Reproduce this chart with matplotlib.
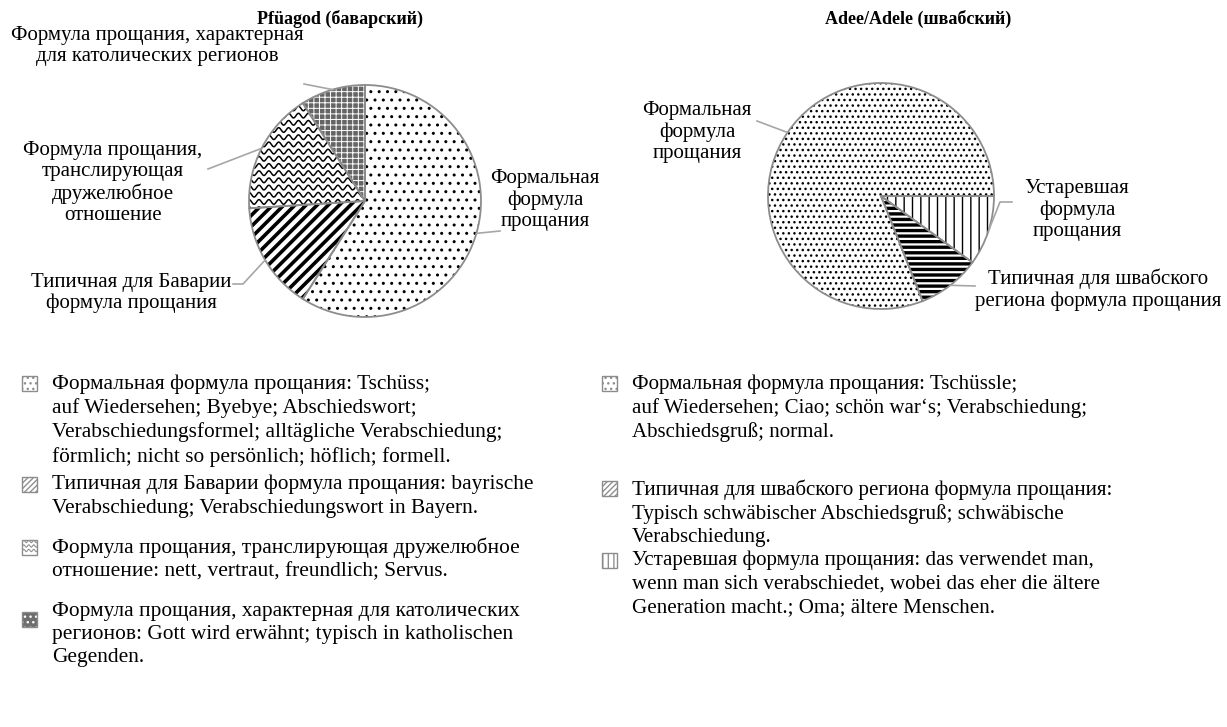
import numpy as np
import matplotlib
matplotlib.use("Agg")
import matplotlib.pyplot as plt
from matplotlib.patches import Wedge, Rectangle

plt.rcParams['font.family'] = ['Liberation Serif', 'DejaVu Serif']

# --- data ---
bav_labels = ["Формальная\nформула\nпрощания",
              "Типичная для Баварии\nформула прощания",
              "Формула прощания,\nтранслирующая\nдружелюбное\nотношение",
              "Формула прощания, характерная\nдля католических регионов"]
bav_values = [59, 15, 17, 9]

swa_labels = ["Формальная\nформула\nпрощания",
              "Типичная для швабского\nрегиона формула прощания",
              "Устаревшая\nформула\nпрощания"]
swa_values = [81, 9, 10]

bav_legend = [
    "Формальная формула прощания: Tschüss;\nauf Wiedersehen; Byebye; Abschiedswort;\n"
    "Verabschiedungsformel; alltägliche Verabschiedung;\nförmlich; nicht so persönlich; höflich; formell.",
    "Типичная для Баварии формула прощания: bayrische\nVerabschiedung; Verabschiedungswort in Bayern.",
    "Формула прощания, транслирующая дружелюбное\nотношение: nett, vertraut, freundlich; Servus.",
    "Формула прощания, характерная для католических\nрегионов: Gott wird erwähnt; typisch in katholischen\nGegenden.",
]
swa_legend = [
    "Формальная формула прощания: Tschüssle;\nauf Wiedersehen; Ciao; schön war‘s; Verabschiedung;\nAbschiedsgruß; normal.",
    "Типичная для швабского региона формула прощания:\nTypisch schwäbischer Abschiedsgruß; schwäbische\nVerabschiedung.",
    "Устаревшая формула прощания: das verwendet man,\nwenn man sich verabschiedet, wobei das eher die ältere\nGeneration macht.; Oma; ältere Menschen.",
]

W, H = 1227, 727
fig = plt.figure(figsize=(W / 100, H / 100), dpi=100)

# overlay in pixel coords (y down)
lay = fig.add_axes([0, 0, 1, 1], zorder=3)
lay.set_xlim(0, W)
lay.set_ylim(H, 0)
lay.axis('off')

EDGE = '#8c8c8c'


def pie_axes(cx, cy, r):
    s = 2.5 * r
    return fig.add_axes([(cx - s / 2) / W, (H - cy - s / 2) / H, s / W, s / H])


def waves(ax, patch, x0, x1, y0, y1, step, amp, period, color, lw):
    # wavy texture clipped to a patch
    xs = np.linspace(x0, x1, 800)
    for y in np.arange(y0, y1, step):
        ln, = ax.plot(xs, y + amp * np.sin(xs * 2 * np.pi / period), color=color, lw=lw)
        ln.set_clip_path(patch)


def draw_pie(cx, cy, r, values, styles, ccw, start):
    ax = pie_axes(cx, cy, r)
    wedges, _ = ax.pie(values, startangle=start, counterclock=ccw,
                       wedgeprops=dict(linewidth=0))
    for w, st in zip(wedges, styles):
        w.set_facecolor(st['fc'])
        w.set_edgecolor(st['hc'])
        if st['hatch'] == 'wave':
            waves(ax, w, -1, 1, -1, 1, 0.062, 0.02, 0.085, 'black', 1.1)
        else:
            w.set_hatch(st['hatch'])
        try:
            w.set_hatch_linewidth(st['hlw'])
        except AttributeError:
            pass
        ax.add_patch(Wedge(w.center, w.r, w.theta1, w.theta2, fill=False,
                           edgecolor=EDGE, lw=1.3, zorder=5))
    return wedges


bav_styles = [dict(fc='white', hc='black', hatch='..', hlw=1.0),
              dict(fc='white', hc='black', hatch='///', hlw=2.6),
              dict(fc='white', hc='black', hatch='wave', hlw=1.0),
              dict(fc='#656565', hc='white', hatch='+++', hlw=0.7)]
swa_styles = [dict(fc='white', hc='black', hatch='...', hlw=1.0),
              dict(fc='white', hc='black', hatch='---', hlw=2.4),
              dict(fc='white', hc='black', hatch='||', hlw=1.0)]

L = (365, 201, 116)
R = (881, 196, 113)
bav_w = draw_pie(*L, bav_values, bav_styles, False, 90)
swa_w = draw_pie(*R, swa_values, swa_styles, True, 0)


def edge_pt(geom, w):
    cx, cy, r = geom
    a = np.deg2rad((w.theta1 + w.theta2) / 2)
    return cx + r * np.cos(a), cy - r * np.sin(a)


lab_fs = 15
# label centre and leader points after the pie edge
bav_pos = [(545, 200, [(500, 231)]),
           (131, 293, [(243, 284), (233, 284)]),
           (113, 183, [(208, 169)]),
           (157, 46, [(304, 84)])]
swa_pos = [(697, 132, [(757, 121)]),
           (1098, 290, [(975, 286)]),
           (1077, 210, [(1000, 202), (1012, 202)])]

for geom, wl, labels, pos in [(L, bav_w, bav_labels, bav_pos), (R, swa_w, swa_labels, swa_pos)]:
    for w, lab, (tx, ty, pts) in zip(wl, labels, pos):
        ex, ey = edge_pt(geom, w)
        xs = [ex] + [p[0] for p in pts]
        ys = [ey] + [p[1] for p in pts]
        lay.plot(xs, ys, color='#a6a6a6', lw=1.2)
        lay.text(tx, ty, lab, ha='center', va='center', fontsize=lab_fs, linespacing=1.17)

lay.text(340, 19, "Pfüagod (баварский)", ha='center', va='center', fontsize=13, fontweight='bold')
lay.text(918, 19, "Adee/Adele (швабский)", ha='center', va='center', fontsize=13, fontweight='bold')

# --- legends ---
bav_leg_y = [383, 484, 547, 611]
bav_box_dy = [0, 0, 0, 8]
swa_leg_y = [383, 488, 560]
swa_box_dy = [0, 0, 0]
bav_leg_st = [dict(fc='white', hc='#909090', hatch='...'),
              dict(fc='white', hc='#909090', hatch='//////'),
              dict(fc='white', hc='#909090', hatch='wave'),
              dict(fc='#6e6e6e', hc='white', hatch='...')]
swa_leg_st = [dict(fc='white', hc='#909090', hatch='...'),
              dict(fc='white', hc='#909090', hatch='//////'),
              dict(fc='white', hc='#909090', hatch='|||')]

BOX = 15
for x0, texts, ys, dys, sts, fs in [(22, bav_legend, bav_leg_y, bav_box_dy, bav_leg_st, 15.4),
                                    (602, swa_legend, swa_leg_y, swa_box_dy, swa_leg_st, 15.1)]:
    for t, y, dy, st in zip(texts, ys, dys, sts):
        b = Rectangle((x0, y + dy - BOX / 2), BOX, BOX, facecolor=st['fc'], edgecolor=st['hc'],
                      lw=0)
        lay.add_patch(b)
        if st['hatch'] == 'wave':
            waves(lay, b, x0, x0 + BOX, y + dy - BOX / 2 + 2, y + dy + BOX / 2, 4.5, 1.2, 5,
                  '#909090', 0.8)
        else:
            b.set_hatch(st['hatch'])
        lay.add_patch(Rectangle((x0, y + dy - BOX / 2), BOX, BOX, fill=False, edgecolor='#8c8c8c', lw=1))
        lay.text(x0 + 30, y - 9, t, ha='left', va='top', fontsize=fs, linespacing=1.3)

fig.savefig('out.png', dpi=100)
